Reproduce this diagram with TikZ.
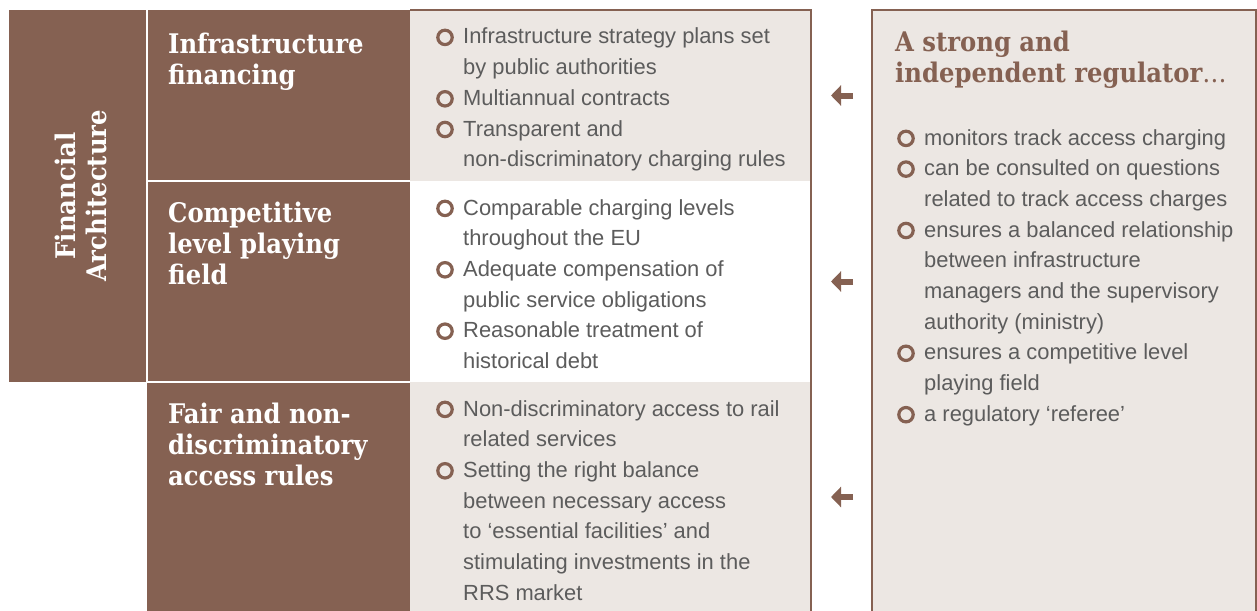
\documentclass[tikz,border=0pt]{standalone}
\usepackage{fontspec}
\newfontfamily\bodyfont{Liberation Sans}
\newfontfamily\headfont{DejaVu Serif Condensed}
\usepackage{tikz}
\usetikzlibrary{arrows.meta}

\definecolor{brn}{HTML}{856152}
\definecolor{pale}{HTML}{ECE7E3}
\definecolor{ink}{HTML}{5C5C5C}

% small brown ring used as the bullet
\newcommand\ringmark{\tikz[baseline={(0,-6.6pt)}]\draw[brn,line width=3.2pt] (0,0) circle (7.2pt);}
\newcommand\bitem[1]{\par\noindent\hangindent=26pt\hangafter=1\makebox[26pt][l]{\kern-1pt\ringmark}#1}
\newcommand\blist[2]{\parbox[t]{#1}{\bodyfont\fontsize{21.9}{30.7}\selectfont#2}}

\tikzset{
  cell/.style={anchor=north west, inner sep=0pt, outer sep=0pt},
  headtxt/.style={anchor=base west, inner sep=0pt, text=white, font=\headfont\fontsize{27}{31}\selectfont\bfseries},
  listtxt/.style={anchor=base west, inner sep=0pt, text=ink},
  sep/.style={white, line width=1.5pt},
  frame/.style={brn, line width=1.4pt},
  pointer/.style={brn, line width=6pt, shorten <=19pt, shorten >=20pt, -{Triangle[length=10pt,width=20pt]}},
}

\begin{document}
\begin{tikzpicture}[x=1pt,y=-1pt]
  \useasboundingbox (0,0) rectangle (1257,610);

  % left band and the three heading cells
  \node[cell, fill=brn, minimum width=138pt, minimum height=372pt] (fin) at (9,10) {};
  \node[cell, fill=brn, minimum width=263pt, minimum height=171pt] (hinf) at (147,10) {};
  \node[cell, fill=brn, minimum width=263pt, minimum height=201pt] (hcomp) at (147,181) {};
  \node[cell, fill=brn, minimum width=263pt, minimum height=230pt] (hfair) at (147,382) {};

  % the three content cells
  \node[cell, fill=pale, minimum width=401pt, minimum height=171pt] (cinf) at (410,10) {};
  \node[cell, fill=white, minimum width=401pt, minimum height=201pt] (ccomp) at (410,181) {};
  \node[cell, fill=pale, minimum width=401pt, minimum height=230pt] (cfair) at (410,382) {};

  % regulator box on the right
  \node[cell, fill=pale, draw=brn, line width=1.4pt, minimum width=384pt, minimum height=610pt] (reg) at (872,10) {};

  \draw[sep] (hinf.north west) -- (hcomp.south west);
  \draw[sep] (hinf.south west) -- (hinf.south east);
  \draw[sep] (hcomp.south west) -- (hcomp.south east);
  \draw[frame] (cinf.north west) -- (cinf.north east) -- (cfair.south east);

  % headings
  \node[rotate=90, align=center, text=white, font=\headfont\fontsize{27}{31}\selectfont\bfseries] (title) at (81,196) {Financial\\Architecture};
  \node[headtxt] (tinf) at (168,53) {\parbox[t]{235pt}{Infrastructure\\financing}};
  \node[headtxt] (tcomp) at (168,222) {\parbox[t]{235pt}{Competitive\\level playing\\field}};
  \node[headtxt] (tfair) at (168,423) {\parbox[t]{235pt}{Fair and non-\\discriminatory\\access rules}};
  \node[headtxt, text=brn] (treg) at (895,52) {\parbox[t]{350pt}{A strong and\\independent regulator{\mdseries\ldots}}};

  % bullet lists
  \node[listtxt] (linf) at (437,44) {\blist{370pt}{%
    \bitem{Infrastructure strategy plans set\\by public authorities}
    \bitem{Multiannual contracts}
    \bitem{Transparent and\\non-discriminatory charging rules}}};
  \node[listtxt] (lcomp) at (437,215) {\blist{370pt}{%
    \bitem{Comparable charging levels\\throughout the EU}
    \bitem{Adequate compensation of\\public service obligations}
    \bitem{Reasonable treatment of\\historical debt}}};
  \node[listtxt] (lfair) at (437,416) {\blist{370pt}{%
    \bitem{Non-discriminatory access to rail\\related services}
    \bitem{Setting the right balance\\between necessary access\\to ‘essential facilities’ and\\stimulating investments in the\\RRS market}}};
  \node[listtxt] (lreg) at (898,145) {\blist{355pt}{%
    \bitem{monitors track access charging}
    \bitem{can be consulted on questions\\related to track access charges}
    \bitem{ensures a balanced relationship\\between infrastructure\\managers and the supervisory\\authority (ministry)}
    \bitem{ensures a competitive level\\playing field}
    \bitem{a regulatory ‘referee’}}};

  % arrows from the regulator towards each cell
  \draw[pointer] (reg.west |- cinf.center) -- (cinf.east);
  \draw[pointer] (reg.west |- ccomp.center) -- (ccomp.east);
  \draw[pointer] (reg.west |- cfair.center) -- (cfair.east);
\end{tikzpicture}
\end{document}
